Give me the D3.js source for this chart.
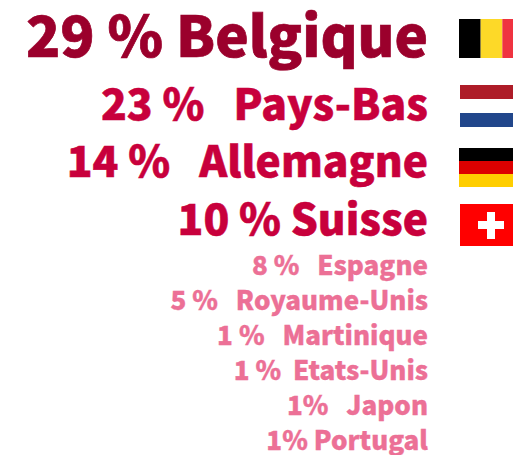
<!DOCTYPE html>
<html><head><meta charset="utf-8">
<script src="https://cdn.jsdelivr.net/npm/d3@7"></script>
<style>html,body{margin:0;padding:0;background:#fff;overflow:hidden}
text{font-family:"Noto Sans CJK JP","Noto Sans CJK SC",sans-serif;font-weight:900;white-space:pre}</style>
</head><body><svg id="c" width="513" height="455"></svg>
<script>
const countries=["Belgique","Pays-Bas","Allemagne","Suisse","Espagne","Royaume-Unis","Martinique","Etats-Unis","Japon","Portugal"];
const values=[29,23,14,10,8,5,1,1,1,1];
const valueLabels=["29 % ","23 %   ","14 %   ","10 % ","8 %   ","5 %   ","1 %   ","1 %  ","1%   ","1% "];

const svg=d3.select("#c");
const fontSize=d3.scaleThreshold().domain([10,29]).range([26,42.5,56.4]);
const strokeW=d3.scaleThreshold().domain([10,29]).range([0.35,0.55,0.7]);
const colour=d3.scaleThreshold().domain([10,29]).range(["#ec7096","#c8003c","#9b002c"]);
const rowY=d3.scaleOrdinal().domain(countries).range([57,120,177,235,275,310,345,380,415,450]);
const rows=countries.map((c,i)=>({country:c,value:values[i],label:valueLabels[i]}));
svg.selectAll("text.row").data(rows).join("text").attr("class","row")
  .attr("x",428).attr("y",d=>rowY(d.country)).attr("text-anchor","end")
  .attr("font-size",d=>fontSize(d.value)).attr("fill",d=>colour(d.value))
  .attr("stroke",d=>colour(d.value)).attr("stroke-width",d=>strokeW(d.value))
  .text(d=>d.label+d.country);

const flags=[
 {x:459,y:19,w:54,h:39,dir:"v",bands:["#000000","#fdd928","#ef3340"]},
 {x:460,y:85,w:53,h:42,dir:"h",bands:["#ae1c28","#ffffff","#21468b"]},
 {x:459,y:148,w:54,h:39,dir:"h",bands:["#000000","#dd0000","#ffce00"]},
];
flags.forEach(f=>{
  const g=svg.append("g");
  const b=d3.scaleBand().domain(d3.range(3)).range(f.dir==="v"?[f.x,f.x+65]:[f.y,f.y+f.h]);
  g.selectAll("rect").data(f.bands).join("rect")
   .attr("x",(d,i)=>f.dir==="v"?b(i):f.x).attr("y",(d,i)=>f.dir==="v"?f.y:b(i))
   .attr("width",f.dir==="v"?b.bandwidth():f.w).attr("height",f.dir==="v"?f.h:b.bandwidth())
   .attr("fill",d=>d);
});
svg.append("rect").attr("x",460).attr("y",204).attr("width",53).attr("height",42).attr("fill","#ff0000");
svg.append("rect").attr("x",487).attr("y",212).attr("width",8).attr("height",27).attr("fill","#fff");
svg.append("rect").attr("x",478).attr("y",221).attr("width",26).attr("height",8).attr("fill","#fff");
</script></body></html>
